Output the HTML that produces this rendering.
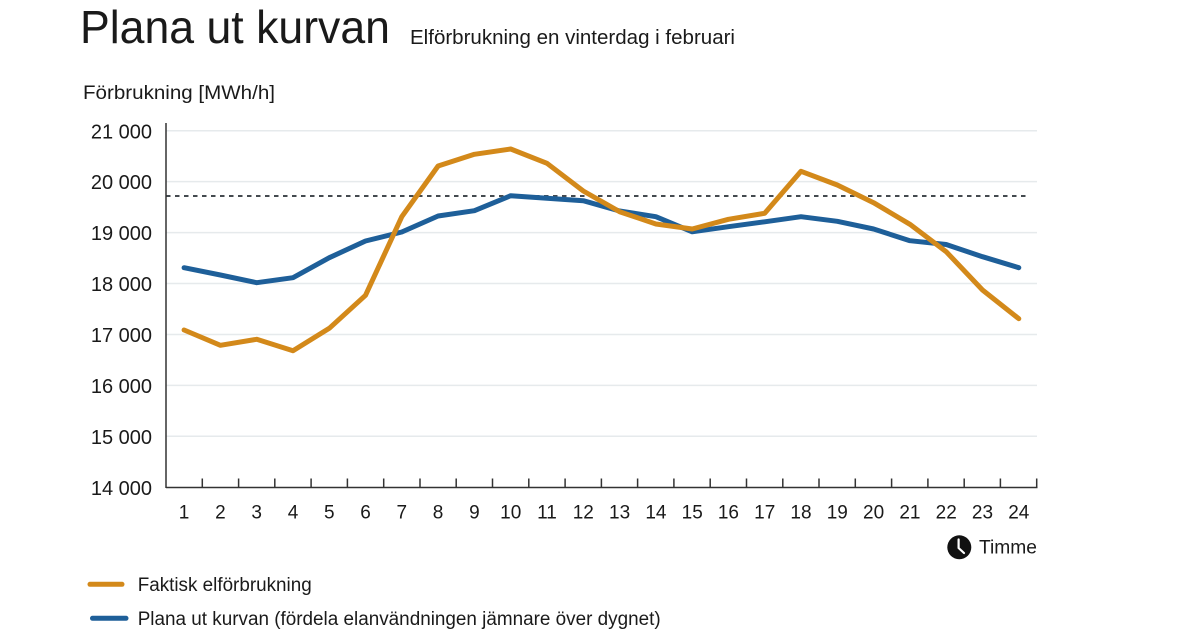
<!DOCTYPE html>
<html>
<head>
<meta charset="utf-8">
<style>
  html, body { margin: 0; padding: 0; background: #ffffff; }
  svg { display: block; }
  text { font-family: "Liberation Sans", "DejaVu Sans", sans-serif; fill: #1a1a1a; }
</style>
</head>
<body>
<svg width="1200" height="630" viewBox="0 0 1200 630" xmlns="http://www.w3.org/2000/svg">
  <rect width="1200" height="630" fill="#ffffff"/>

  <!-- Titles -->
  <text x="80" y="43" font-size="46" textLength="310" lengthAdjust="spacingAndGlyphs">Plana ut kurvan</text>
  <text x="410" y="44" font-size="20" textLength="325" lengthAdjust="spacingAndGlyphs">Elförbrukning en vinterdag i februari</text>
  <text x="83" y="99" font-size="19" fill="#333" textLength="192" lengthAdjust="spacingAndGlyphs">Förbrukning [MWh/h]</text>

  <!-- Gridlines -->
  <g stroke="#e6eaec" stroke-width="1.5">
    <line x1="166" y1="130.7" x2="1037" y2="130.7"/>
    <line x1="166" y1="181.6" x2="1037" y2="181.6"/>
    <line x1="166" y1="232.6" x2="1037" y2="232.6"/>
    <line x1="166" y1="283.5" x2="1037" y2="283.5"/>
    <line x1="166" y1="334.5" x2="1037" y2="334.5"/>
    <line x1="166" y1="385.4" x2="1037" y2="385.4"/>
    <line x1="166" y1="436.3" x2="1037" y2="436.3"/>
  </g>

  <!-- Y tick labels -->
  <g font-size="20" text-anchor="end" fill="#333">
    <text x="152" y="138.3">21 000</text>
    <text x="152" y="189.2">20 000</text>
    <text x="152" y="240.2">19 000</text>
    <text x="152" y="291.1">18 000</text>
    <text x="152" y="342.1">17 000</text>
    <text x="152" y="393.0">16 000</text>
    <text x="152" y="443.9">15 000</text>
    <text x="152" y="494.9">14 000</text>
  </g>

  <!-- Dashed reference line -->
  <line x1="166" y1="196" x2="1028" y2="196" stroke="#444a4f" stroke-width="2" stroke-dasharray="4.5,4.5"/>

  <!-- Axes -->
  <g stroke="#333" stroke-width="1.5" fill="none">
    <line x1="166" y1="123" x2="166" y2="488"/>
    <line x1="166" y1="487.5" x2="1037.5" y2="487.5"/>
    <path d="M202.3 488V478.5 M238.6 488V478.5 M274.8 488V478.5 M311.1 488V478.5 M347.4 488V478.5 M383.7 488V478.5 M420 488V478.5 M456.2 488V478.5 M492.5 488V478.5 M528.8 488V478.5 M565.1 488V478.5 M601.4 488V478.5 M637.6 488V478.5 M673.9 488V478.5 M710.2 488V478.5 M746.5 488V478.5 M782.8 488V478.5 M819 488V478.5 M855.3 488V478.5 M891.6 488V478.5 M927.9 488V478.5 M964.2 488V478.5 M1000.4 488V478.5 M1036.7 488V478.5"/>
  </g>

  <!-- X labels -->
  <g font-size="19" text-anchor="middle" fill="#333">
    <text x="184.1" y="518.5">1</text>
    <text x="220.4" y="518.5">2</text>
    <text x="256.7" y="518.5">3</text>
    <text x="293.0" y="518.5">4</text>
    <text x="329.3" y="518.5">5</text>
    <text x="365.5" y="518.5">6</text>
    <text x="401.8" y="518.5">7</text>
    <text x="438.1" y="518.5">8</text>
    <text x="474.4" y="518.5">9</text>
    <text x="510.7" y="518.5">10</text>
    <text x="547.0" y="518.5">11</text>
    <text x="583.3" y="518.5">12</text>
    <text x="619.6" y="518.5">13</text>
    <text x="655.9" y="518.5">14</text>
    <text x="692.2" y="518.5">15</text>
    <text x="728.4" y="518.5">16</text>
    <text x="764.7" y="518.5">17</text>
    <text x="801.0" y="518.5">18</text>
    <text x="837.3" y="518.5">19</text>
    <text x="873.6" y="518.5">20</text>
    <text x="909.9" y="518.5">21</text>
    <text x="946.2" y="518.5">22</text>
    <text x="982.5" y="518.5">23</text>
    <text x="1018.8" y="518.5">24</text>
  </g>

  <!-- Series: blue (planned) -->
  <polyline fill="none" stroke="#1e5f99" stroke-width="5" stroke-linejoin="round" stroke-linecap="round"
    points="184.1,267.7 220.4,275 256.7,282.7 293.0,277.7 329.3,257.7 365.5,241 401.8,232 438.1,216 474.4,210.7 510.7,195.7 547.0,198.3 583.3,200.7 619.6,211 655.9,216.7 692.2,231.8 728.4,226.7 764.7,221.8 801.0,216.7 837.3,221.3 873.6,229 909.9,240.7 946.2,244.5 982.5,256.7 1018.8,267.7"/>

  <!-- Series: orange (actual) -->
  <polyline fill="none" stroke="#d3891a" stroke-width="5" stroke-linejoin="round" stroke-linecap="round"
    points="184.1,330 220.4,345.3 256.7,339.3 293.0,350.7 329.3,328.3 365.5,295.3 401.8,216.7 438.1,166 474.4,154.3 510.7,149 547.0,163.3 583.3,191 619.6,211.7 655.9,224 692.2,229 728.4,219.3 764.7,213.3 801.0,171.3 837.3,185 873.6,202.7 909.9,224.3 946.2,251.7 982.5,290 1018.8,318.7"/>

  <!-- Clock icon + Timme -->
  <circle cx="959.3" cy="547.3" r="12" fill="#111"/>
  <path d="M958.6 539.5 V548 L964 553" fill="none" stroke="#fff" stroke-width="2.2" stroke-linecap="round" stroke-linejoin="round"/>
  <text x="979" y="553.5" font-size="19.5" fill="#222" textLength="58" lengthAdjust="spacingAndGlyphs">Timme</text>

  <!-- Legend -->
  <line x1="90" y1="584.3" x2="122" y2="584.3" stroke="#d3891a" stroke-width="5" stroke-linecap="round"/>
  <text x="137.7" y="591" font-size="19" fill="#222" textLength="174" lengthAdjust="spacingAndGlyphs">Faktisk elförbrukning</text>
  <line x1="92.5" y1="618.3" x2="126" y2="618.3" stroke="#1e5f99" stroke-width="5" stroke-linecap="round"/>
  <text x="137.7" y="625" font-size="19" fill="#222" textLength="523" lengthAdjust="spacingAndGlyphs">Plana ut kurvan (fördela elanvändningen jämnare över dygnet)</text>
</svg>
</body>
</html>
